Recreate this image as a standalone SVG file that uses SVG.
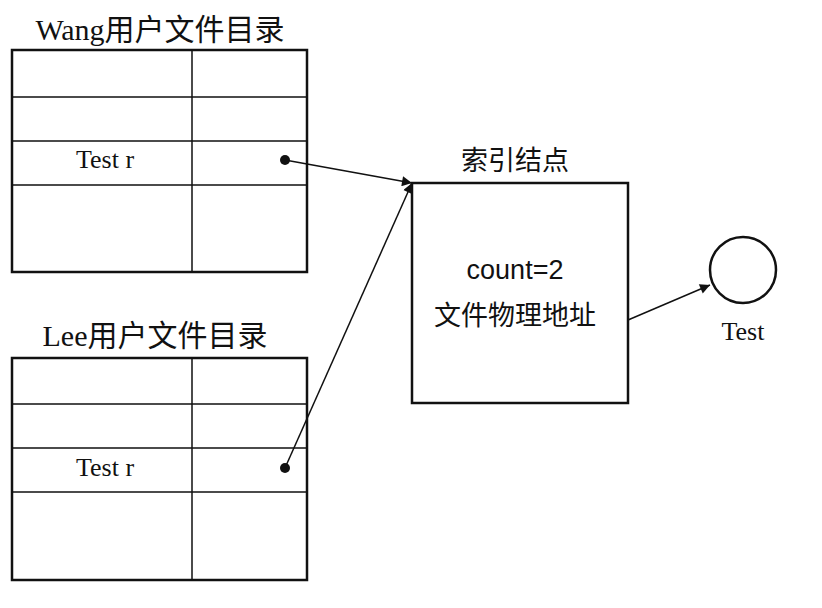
<svg xmlns="http://www.w3.org/2000/svg" width="822" height="608" viewBox="0 0 822 608">
<style>
.b{fill:none;stroke:#111;stroke-width:2.5}
.l{fill:none;stroke:#111;stroke-width:1.5}
.t{font-family:"Liberation Serif","Noto Sans CJK SC",serif;font-size:26px;fill:#111;text-anchor:middle}
.h{font-family:"Liberation Serif","Noto Sans CJK SC",serif;font-size:30px;fill:#111;text-anchor:middle}
.c{font-family:"Liberation Sans","Noto Sans CJK SC",sans-serif;font-size:27px;fill:#111;text-anchor:middle}
</style>
<defs><marker id="a" viewBox="0 0 10 10" refX="10" refY="5" markerWidth="14" markerHeight="10" markerUnits="userSpaceOnUse" orient="auto"><path d="M0,0L10,5L0,10z" fill="#111"/></marker></defs>
<rect width="822" height="608" fill="#fff"/>
<g id="wang">
<text class="h" x="160" y="40">Wang用户文件目录</text>
<rect class="b" x="12" y="50" width="295" height="222"/>
<path class="l" d="M12,97H307M12,141H307M12,185H307M192,50V272"/>
<text class="t" x="105" y="168">Test r</text>
<circle cx="285" cy="160" r="5" fill="#111"/>
</g>
<g id="lee">
<text class="h" x="155" y="346">Lee用户文件目录</text>
<rect class="b" x="12" y="358" width="295" height="222"/>
<path class="l" d="M12,404H307M12,448H307M12,492H307M192,358V580"/>
<text class="t" x="105" y="476">Test r</text>
<circle cx="285" cy="468" r="5" fill="#111"/>
</g>
<g id="inode">
<text class="c" x="515" y="170">索引结点</text>
<rect class="b" x="412" y="183" width="216" height="220"/>
<text class="c" x="515" y="279">count=2</text>
<text class="c" x="515" y="325">文件物理地址</text>
</g>
<g id="test">
<circle class="b" cx="743" cy="270" r="33"/>
<text class="t" x="743" y="340">Test</text>
</g>
<g id="connectors">
<path class="l" d="M285,160L412,183" marker-end="url(#a)"/>
<path class="l" d="M285,468L412,183" marker-end="url(#a)"/>
<path class="l" d="M628,320L710,285" marker-end="url(#a)"/>
</g>
</svg>
